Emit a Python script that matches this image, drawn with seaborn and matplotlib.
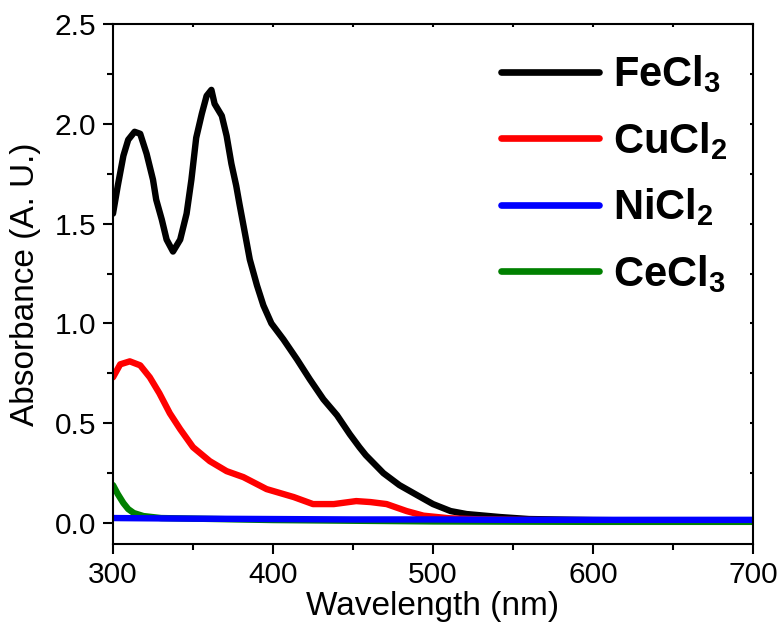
import numpy as np
import pandas as pd
import matplotlib
matplotlib.use("Agg")
import matplotlib.pyplot as plt
import seaborn as sns

# ---- data ----
fe_wl = [300, 303, 306.5, 309.5, 313.5, 317, 321, 325, 327, 330.5, 333.5, 337.5, 342, 346, 349, 352,
         355.5, 358.5, 361.5, 363.5, 368, 371, 374, 377, 379, 382.5, 385.5, 390, 394, 399, 406.5, 415,
         423, 431.5, 440, 448, 454, 458, 469, 479, 490, 500, 511, 521, 542, 560, 600, 650, 700]
fe_abs = [1.55, 1.69, 1.84, 1.92, 1.96, 1.95, 1.85, 1.72, 1.62, 1.52, 1.42, 1.36, 1.42, 1.55, 1.72, 1.93,
          2.05, 2.14, 2.17, 2.10, 2.04, 1.94, 1.80, 1.69, 1.60, 1.45, 1.32, 1.19, 1.09, 1.00, 0.92, 0.82,
          0.72, 0.62, 0.54, 0.445, 0.38, 0.34, 0.25, 0.19, 0.14, 0.095, 0.06, 0.045, 0.03, 0.02, 0.015,
          0.012, 0.01]

cu_wl = [300, 304.5, 310.5, 317, 323, 329, 335.5, 342, 350, 360.5, 371, 381.5, 396, 413, 425, 438, 452,
         461, 471, 483.5, 494, 510, 530, 560, 600, 650, 700]
cu_abs = [0.73, 0.795, 0.81, 0.79, 0.73, 0.65, 0.55, 0.47, 0.38, 0.31, 0.26, 0.23, 0.17, 0.13, 0.095,
          0.095, 0.11, 0.105, 0.095, 0.06, 0.037, 0.024, 0.018, 0.015, 0.013, 0.013, 0.012]

ni_wl = [300, 350, 400, 450, 500, 550, 600, 650, 700]
ni_abs = [0.025, 0.022, 0.02, 0.018, 0.018, 0.016, 0.016, 0.016, 0.016]

ce_wl = [300, 303, 306.5, 309.5, 313, 319, 330, 400, 500, 600, 700]
ce_abs = [0.19, 0.145, 0.10, 0.07, 0.05, 0.035, 0.025, 0.015, 0.008, 0.006, 0.006]

labels = ["FeCl$_3$", "CuCl$_2$", "NiCl$_2$", "CeCl$_3$"]
colors = ["#000000", "#FF0000", "#0000FF", "#008000"]

x_ticks = [300, 400, 500, 600, 700]
y_ticks = [0.0, 0.5, 1.0, 1.5, 2.0, 2.5]

frames = []
for lab, wl, ab in zip(labels, [fe_wl, cu_wl, ni_wl, ce_wl], [fe_abs, cu_abs, ni_abs, ce_abs]):
    frames.append(pd.DataFrame({"wl": wl, "abs": ab, "salt": lab}))
df = pd.concat(frames, ignore_index=True)

sns.set_theme(style="ticks")
plt.rcParams["font.family"] = ["Liberation Sans", "DejaVu Sans"]
plt.rcParams["mathtext.default"] = "regular"
plt.rcParams["text.color"] = "black"
plt.rcParams["axes.labelcolor"] = "black"
plt.rcParams["xtick.color"] = "black"
plt.rcParams["ytick.color"] = "black"
plt.rcParams["xtick.labelcolor"] = "black"
plt.rcParams["ytick.labelcolor"] = "black"

fig = plt.figure(figsize=(7.83, 6.27), dpi=100)
ax = fig.add_axes([113 / 783, 1 - 544 / 627, 640 / 783, 520 / 627])

draw_order = [labels[0], labels[1], labels[3], labels[2]]
sns.lineplot(data=df, x="wl", y="abs", hue="salt", hue_order=draw_order,
             palette=dict(zip(labels, colors)), estimator=None, sort=True,
             linewidth=4.6, ax=ax, legend=True)

ax.set_xlim(300, 700)
ax.set_ylim(-0.105, 2.5)
ax.set_xticks(x_ticks)
ax.set_xticklabels([str(v) for v in x_ticks])
ax.set_yticks(y_ticks)
ax.set_yticklabels([f"{v:.1f}" for v in y_ticks])
ax.set_xticks([350, 450, 550, 650], minor=True)
ax.set_yticks([0.25, 0.75, 1.25, 1.75, 2.25], minor=True)

for s in ax.spines.values():
    s.set_linewidth(1.5)
    s.set_color("black")
ax.tick_params(which="major", direction="out", length=7, width=1.5, labelsize=21.5,
               colors="black", labelcolor="black", pad=5)
ax.tick_params(which="minor", direction="out", length=4, width=1.5, colors="black")
ax.tick_params(which="both", top=True, right=True, labeltop=False, labelright=False)
# top/right ticks inward and short
for t in ax.xaxis.get_major_ticks() + ax.xaxis.get_minor_ticks():
    t.tick2line.set_marker(3)
    t.tick2line.set_markersize(2.5)
for t in ax.yaxis.get_major_ticks() + ax.yaxis.get_minor_ticks():
    t.tick2line.set_marker(0)
    t.tick2line.set_markersize(2.5)

ax.set_xlabel("Wavelength (nm)", fontsize=24, labelpad=2, color="black")
ax.set_ylabel("Absorbance (A. U.)", fontsize=24, labelpad=10, color="black")

handles, labs = ax.get_legend_handles_labels()
hmap = dict(zip(labs, handles))
leg = ax.legend([hmap[l] for l in labels], labels, loc="upper left",
                bbox_to_anchor=(0.606, 0.943), frameon=False,
                prop={"family": "Liberation Sans", "weight": "bold", "size": 30},
                handlelength=2.35, handletextpad=0.34, labelspacing=0.59,
                borderpad=0, borderaxespad=0)
for ln in leg.get_lines():
    ln.set_linewidth(4.8)
for txt in leg.get_texts():
    txt.set_color("black")

fig.savefig("out.png", dpi=100)
